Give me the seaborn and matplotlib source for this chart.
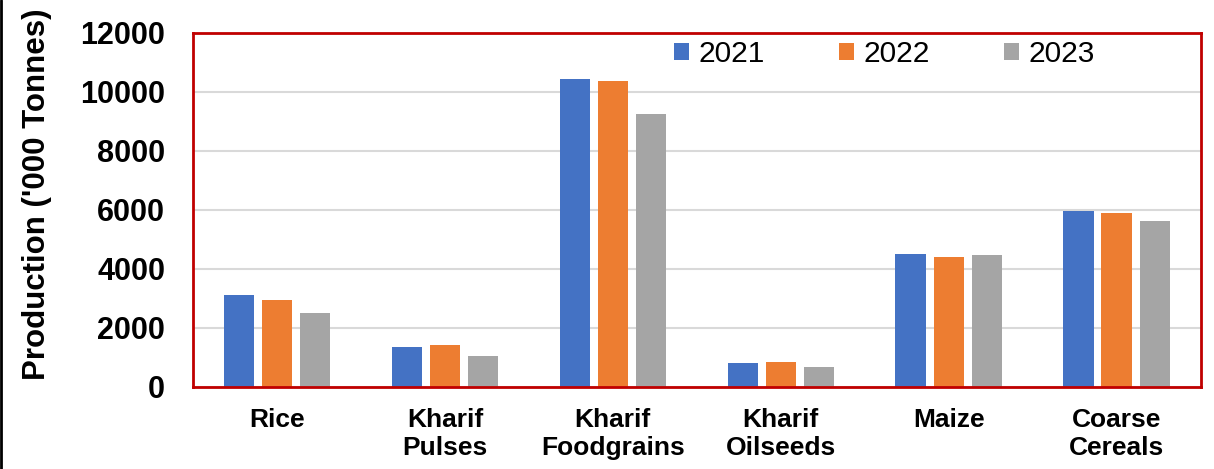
import pandas as pd
import numpy as np
import matplotlib.pyplot as plt
import seaborn as sns

categories = ['Rice', 'Kharif\nPulses', 'Kharif\nFoodgrains', 'Kharif\nOilseeds', 'Maize', 'Coarse\nCereals']
years = ['2021', '2022', '2023']
prod_2021 = [3100, 1350, 10450, 820, 4500, 5950]
prod_2022 = [2950, 1430, 10370, 850, 4410, 5910]
prod_2023 = [2500, 1060, 9250, 680, 4470, 5630]
colors = ['#4472c4', '#ed7d31', '#a5a5a5']

df = pd.DataFrame({
    'Crop': categories * 3,
    'Year': np.repeat(years, len(categories)),
    'Production': prod_2021 + prod_2022 + prod_2023,
})

sns.set_style('white')
plt.rcParams['font.family'] = ['Liberation Sans', 'DejaVu Sans']
plt.rcParams['text.color'] = 'black'
plt.rcParams['axes.labelcolor'] = 'black'
plt.rcParams['xtick.color'] = 'black'
plt.rcParams['ytick.color'] = 'black'

fig, ax = plt.subplots(figsize=(12.14, 4.69), dpi=100)
sns.barplot(data=df, x='Crop', y='Production', hue='Year', palette=colors,
            width=0.68, gap=0.2, saturation=1, linewidth=0, ax=ax, zorder=2)

ax.set_ylim(0, 12000)
ax.set_yticks(range(0, 12001, 2000))
ax.yaxis.grid(True, color='#d9d9d9', linewidth=1.5, zorder=0)
ax.set_axisbelow(True)
for s in ax.spines.values():
    s.set_visible(True)
    s.set_color('#c00000')
    s.set_linewidth(2)
    s.set_zorder(4)

ax.set_xlabel('')
ax.set_ylabel("Production ('000 Tonnes)", fontsize=22.5, fontweight='bold')
ax.yaxis.set_label_coords(-0.14, 0.545)
ax.tick_params(axis='y', labelsize=22, length=0, pad=20)
ax.tick_params(axis='x', labelsize=19, length=0, pad=15)
for lab in ax.get_yticklabels() + ax.get_xticklabels():
    lab.set_fontweight('bold')

ax.legend(loc='upper left', bbox_to_anchor=(0.451, 1.055), ncol=3, frameon=False,
          fontsize=21.5, handlelength=0.5, handleheight=0.5, handletextpad=0.3,
          columnspacing=2.5)

plt.subplots_adjust(left=0.159, right=0.989, top=0.93, bottom=0.175)
fig.add_artist(plt.Line2D([0.001, 0.001], [0, 1], color='black', linewidth=2, transform=fig.transFigure))
plt.savefig('out.png')
